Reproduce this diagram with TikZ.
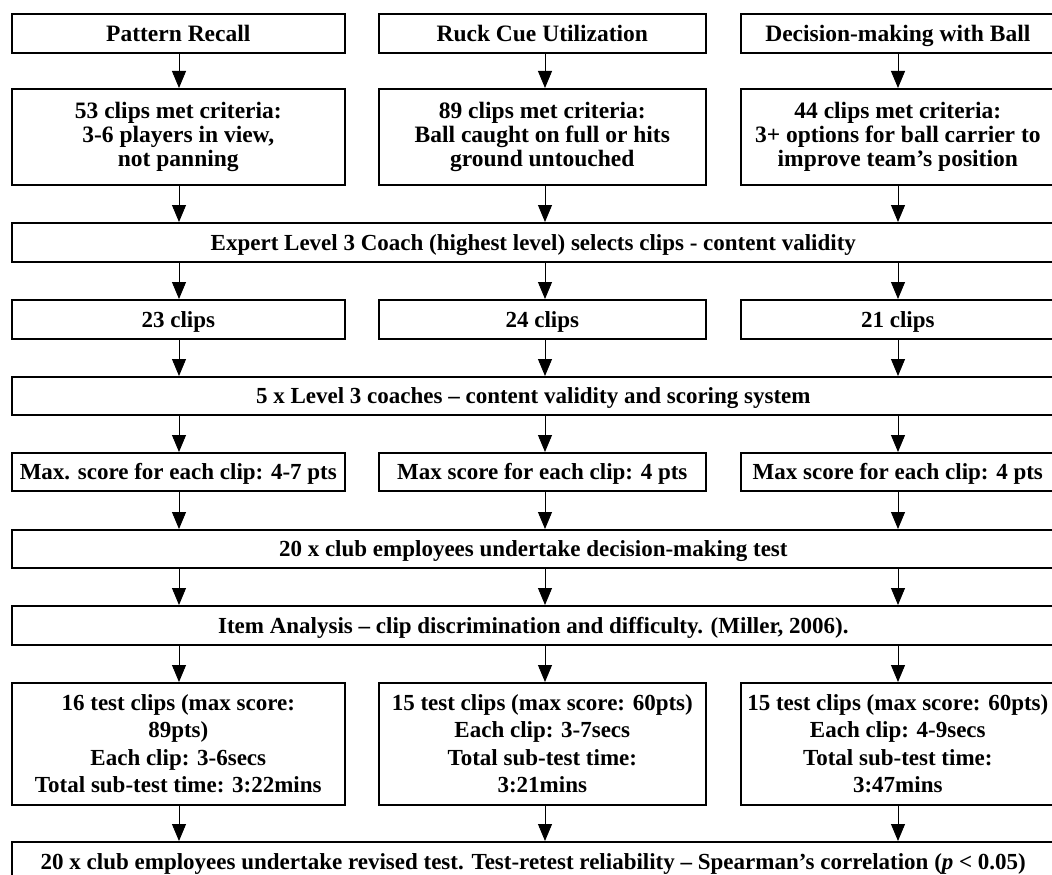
\documentclass[tikz,border=0pt]{standalone}
\usepackage{fontspec}
\setmainfont{Liberation Serif}
\usetikzlibrary{arrows.meta}
\tikzset{
  box/.style={draw=black, line width=1.6pt, rectangle, inner sep=0pt, anchor=north west,
    align=center, font=\bfseries\fontsize{23.5}{24}\selectfont},
  lowbox/.style={box, font=\bfseries\fontsize{23}{27.5}\selectfont},
  oneline/.style={text height=18pt, text depth=2pt},
  arr/.style={draw=black, line width=0.9pt, -{Triangle[width=14pt,length=17pt]}}
}
\begin{document}
\begin{tikzpicture}[x=1pt,y=-1pt]
\useasboundingbox (0,0) rectangle (1052,875);
\clip (0,0) rectangle (1052,875);
\coordinate (cA) at (179,0);
\coordinate (cB) at (545,0);
\coordinate (cC) at (898,0);
% row 1
\node[box, oneline, minimum width=333pt, minimum height=39pt] (a1) at (11,13) {Pattern Recall};
\node[box, oneline, minimum width=327pt, minimum height=39pt] (b1) at (378,13) {Ruck Cue Utilization};
\node[box, oneline, minimum width=314pt, minimum height=39pt] (c1) at (740,13) {Decision-making with Ball};
% row 2
\node[box, minimum width=333pt, minimum height=96pt] (a2) at (11,88) {53 clips met criteria:\\3-6 players in view,\\not panning};
\node[box, minimum width=327pt, minimum height=96pt] (b2) at (378,88) {89 clips met criteria:\\Ball caught on full or hits\\ground untouched};
\node[box, minimum width=314pt, minimum height=96pt] (c2) at (740,88) {44 clips met criteria:\\3+ options for ball carrier to\\improve team’s position};
% row 3
\node[lowbox, oneline, minimum width=1043pt, minimum height=39pt] (w3) at (11,222) {Expert Level 3 Coach (highest level) selects clips - content validity};
% row 4
\node[lowbox, oneline, minimum width=333pt, minimum height=39pt] (a4) at (11,299) {23 clips};
\node[lowbox, oneline, minimum width=327pt, minimum height=39pt] (b4) at (378,299) {24 clips};
\node[lowbox, oneline, minimum width=314pt, minimum height=39pt] (c4) at (740,299) {21 clips};
% row 5
\node[lowbox, oneline, minimum width=1043pt, minimum height=38pt] (w5) at (11,376) {5 x Level 3 coaches – content validity and scoring system};
% row 6
\node[lowbox, oneline, minimum width=333pt, minimum height=38pt] (a6) at (11,452) {Max. score for each clip: 4-7 pts};
\node[lowbox, oneline, minimum width=327pt, minimum height=38pt] (b6) at (378,452) {Max score for each clip: 4 pts};
\node[lowbox, oneline, minimum width=314pt, minimum height=38pt] (c6) at (740,452) {Max score for each clip: 4 pts};
% row 7
\node[lowbox, oneline, minimum width=1043pt, minimum height=38pt] (w7) at (11,529) {20 x club employees undertake decision-making test};
% row 8
\node[lowbox, oneline, minimum width=1043pt, minimum height=39pt] (w8) at (11,605) {Item Analysis – clip discrimination and difficulty. (Miller, 2006).};
% row 9
\node[lowbox, minimum width=333pt, minimum height=122pt] (a9) at (11,682) {16 test clips (max score:\\89pts)\\Each clip: 3-6secs\\Total sub-test time: 3:22mins};
\node[lowbox, minimum width=327pt, minimum height=122pt] (b9) at (378,682) {15 test clips (max score: 60pts)\\Each clip: 3-7secs\\Total sub-test time:\\3:21mins};
\node[lowbox, minimum width=314pt, minimum height=122pt] (c9) at (740,682) {15 test clips (max score: 60pts)\\Each clip: 4-9secs\\Total sub-test time:\\3:47mins};
% row 10
\node[lowbox, oneline, minimum width=1043pt, minimum height=40pt] (w10) at (11,841) {20 x club employees undertake revised test. Test-retest reliability – Spearman’s correlation (\textit{p} < 0.05)};
% arrows
\foreach \u/\l/\c in {a1/a2/cA, b1/b2/cB, c1/c2/cC,
                      a2/w3/cA, b2/w3/cB, c2/w3/cC,
                      w3/a4/cA, w3/b4/cB, w3/c4/cC,
                      a4/w5/cA, b4/w5/cB, c4/w5/cC,
                      w5/a6/cA, w5/b6/cB, w5/c6/cC,
                      a6/w7/cA, b6/w7/cB, c6/w7/cC,
                      w7/w8/cA, w7/w8/cB, w7/w8/cC,
                      w8/a9/cA, w8/b9/cB, w8/c9/cC,
                      a9/w10/cA, b9/w10/cB, c9/w10/cC}
  \draw[arr] (\u.south -| \c) -- (\l.north -| \c);
\end{tikzpicture}
\end{document}
